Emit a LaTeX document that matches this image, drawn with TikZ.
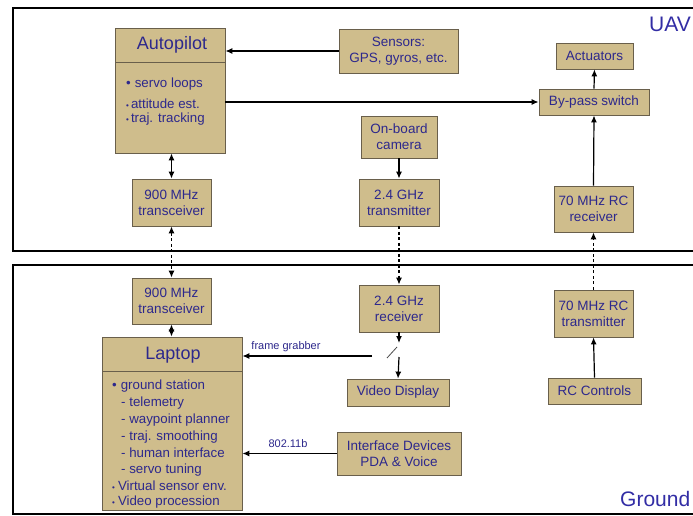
\documentclass[tikz,border=0pt]{standalone}
\usepackage{fontspec}
\setmainfont{Liberation Sans}
\usetikzlibrary{arrows.meta}
\definecolor{boxfill}{RGB}{207,189,140}
\definecolor{boxline}{RGB}{105,95,75}
\definecolor{txtblue}{RGB}{45,40,140}
\definecolor{lblblue}{RGB}{50,45,165}
\tikzset{
  blk/.style={draw=boxline, fill=boxfill, line width=0.8pt, text=txtblue, align=center, inner sep=0pt,
    font=\fontsize{13.5}{16}\selectfont},
  hdr/.style={text=txtblue, inner sep=0pt, font=\fontsize{18}{20}\selectfont},
  itm/.style={anchor=west, text=txtblue, inner sep=0pt, font=\fontsize{13.3}{15}\selectfont},
  lbl/.style={text=txtblue, inner sep=0pt, font=\fontsize{11}{13}\selectfont},
  area/.style={text=lblblue, inner sep=0pt, font=\fontsize{21}{24}\selectfont},
  frame/.style={draw=black, line width=2pt},
  arr/.style={-{Latex[length=7pt,width=6pt]}, line width=1.2pt},
  darr/.style={{Latex[length=7pt,width=6pt]}-{Latex[length=7pt,width=6pt]}, line width=1.2pt},
  dsh/.style={dash pattern=on 3pt off 2.5pt}
}
\newcommand{\smbul}{{\fontsize{8}{8}\selectfont •}}
\begin{document}
\begin{tikzpicture}[x=1pt,y=-1pt]
\clip (0,0) rectangle (693,516);
\fill[white] (0,0) rectangle (693,516);
% outer frames
\draw[frame] (720,251) -- (13,251) -- (13,8) -- (720,8);
\draw[frame] (720,264.5) -- (13,264.5) -- (13,513.5) -- (720,513.5);
\node[area, anchor=west] (uavlbl) at (649,24.5) {UAV};
\node[area, anchor=west] (gndlbl) at (620,499) {Ground};

% autopilot
\node[blk, minimum width=110pt, minimum height=125pt] (ap) at (170,90.5) {};
\draw[boxline, line width=0.8pt] (115,62) -- (225,62);
\node[hdr] (aph) at (172,45) {Autopilot};
\node[itm] (ap1) at (126,84.5) {•\hspace{4pt}servo loops};
\node[itm] (ap2) at (126,103.5) {\smbul\hspace{2pt}attitude est.};
\node[itm] (ap3) at (126,119.5) {\smbul\hspace{2pt}traj. tracking};

\node[blk, minimum width=119pt, minimum height=44pt] (sensors) at (398.5,51) {Sensors:\\GPS, gyros, etc.};
\node[blk, minimum width=77pt, minimum height=26pt] (act) at (594.5,56) {Actuators};
\node[blk, minimum width=110pt, minimum height=26pt] (bypass) at (594,102) {By-pass switch};
\node[blk, minimum width=76pt, minimum height=42pt] (cam) at (399,137) {On-board\\camera};
\node[blk, minimum width=80pt, minimum height=47pt] (txa) at (399,202.5) {2.4 GHz\\transmitter};
\node[blk, minimum width=79pt, minimum height=46pt] (rxr) at (593.5,209) {70 MHz RC\\receiver};
\node[blk, minimum width=79pt, minimum height=47pt] (tca) at (171.5,202.5) {900 MHz\\transceiver};
\node[blk, minimum width=79pt, minimum height=46pt] (tcb) at (171.5,301) {900 MHz\\transceiver};
\node[blk, minimum width=80pt, minimum height=47pt] (rxa) at (399,308.5) {2.4 GHz\\receiver};
\node[blk, minimum width=79pt, minimum height=47pt] (txr) at (593.5,313.5) {70 MHz RC\\transmitter};
\node[blk, minimum width=102pt, minimum height=27pt] (video) at (398,392.5) {Video Display};
\node[blk, minimum width=93pt, minimum height=26pt] (rc) at (594.5,391) {RC Controls};
\node[blk, minimum width=124pt, minimum height=43pt] (iface) at (399,453.5) {Interface Devices\\PDA \& Voice};

% laptop
\node[blk, minimum width=140pt, minimum height=173pt] (lap) at (172,423.5) {};
\draw[boxline, line width=0.8pt] (102,371) -- (242,371);
\node[hdr] (laph) at (173,355) {Laptop};
\node[itm] (l1) at (112,386) {•\hspace{4pt}ground station};
\node[itm] (l2) at (121,403) {- telemetry};
\node[itm] (l3) at (121,420) {- waypoint planner};
\node[itm] (l4) at (121,437) {- traj. smoothing};
\node[itm] (l5) at (121,453) {- human interface};
\node[itm] (l6) at (121,470) {- servo tuning};
\node[itm] (l7) at (112,486) {\smbul\hspace{3pt}Virtual sensor env.};
\node[itm] (l8) at (112,502) {\smbul\hspace{3pt}Video procession};

% connectors
\draw[arr] (sensors.west) -- (sensors.west -| ap.east);
\draw[arr] (ap.east |- bypass.west) -- (bypass.west);
\draw[arr] (bypass.north) -- (act.south);
\draw[arr] (rxr.north) -- (bypass.south);
\draw[arr, dsh] (txr.north) -- (rxr.south);
\draw[arr] (rc.north) -- (txr.south);
\draw[arr] (cam.south) -- (txa.north);
\draw[arr, dsh] (txa.south) -- (rxa.north);
\draw[darr] (ap.south -| tca.north) -- (tca.north);
\draw[darr, dsh] (tca.south) -- (tcb.north);
\draw[darr] (tcb.south) -- (tcb.south |- lap.north);

% switch
\coordinate (swtop) at (399,343);
\coordinate (swa) at (387,358);
\coordinate (swb) at (397,347);
\coordinate (swout) at (399,357);
\coordinate (fg) at (372,356);
\draw[arr] (rxa.south) -- (swtop);
\draw[line width=0.8pt, black!70] (swa) -- (swb);
\draw[arr] (swout) -- (video.north);
\draw[arr] (fg) -- (fg -| lap.east);
\node[lbl] (fglbl) at (286,347) {frame grabber};
\draw[arr] (iface.west) -- (iface.west -| lap.east);
\node[lbl] (wlbl) at (288,443.5) {802.11b};
\end{tikzpicture}
\end{document}
